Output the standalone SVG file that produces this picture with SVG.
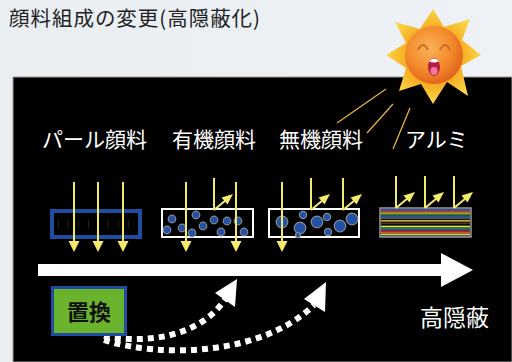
<svg xmlns="http://www.w3.org/2000/svg" width="512" height="362" viewBox="0 0 512 362">
  <defs>
    <style>
      .jp { font-family: "Noto Sans CJK JP", "Noto Sans", sans-serif; }
      .label { fill: #ffffff; font-size: 21px; }
      .ray { stroke: #f3ea6b; stroke-width: 2; fill: none; }
      .ray-head { fill: #f3ea6b; }
      .beam { stroke: #e8b040; stroke-width: 1.3; }
      .slab { fill: #000; stroke: #ffffff; stroke-width: 2; }
      .dot-s { fill: #2152a8; stroke: #8a8a8a; stroke-width: 1.2; }
      .dash-arrow { fill: none; stroke: #ffffff; stroke-width: 6; stroke-dasharray: 6 5; }
    </style>
    <radialGradient id="faceGrad" cx="0.42" cy="0.38" r="0.65">
      <stop offset="0" stop-color="#fbb25a"/>
      <stop offset="0.6" stop-color="#f28a2a"/>
      <stop offset="1" stop-color="#e0601a"/>
    </radialGradient>
    <radialGradient id="spikeGrad" cx="0.5" cy="0.5" r="0.5">
      <stop offset="0.5" stop-color="#f7a21a"/>
      <stop offset="1" stop-color="#f9d84a"/>
    </radialGradient>
    <linearGradient id="bgGrad" x1="0" y1="0" x2="1" y2="0">
      <stop offset="0" stop-color="#e9eef3"/>
      <stop offset="1" stop-color="#eef2f6"/>
    </linearGradient>
    <!-- downward arrowhead -->
    <path id="headDown" d="M-5.5,0 L5.5,0 L0,11 Z"/>
    <!-- reflected ray: vertical drop then diagonal bounce -->
    <g id="bounce">
      <line class="ray" x1="0" y1="0" x2="0" y2="32"/>
      <line class="ray" x1="0" y1="32" x2="12" y2="22"/>
      <path class="ray-head" d="M19,16 L7.5,19.5 L13.5,26.5 Z"/>
    </g>
  </defs>

  <!-- page background -->
  <rect x="0" y="0" width="512" height="362" fill="url(#bgGrad)"/>
  <text class="jp" x="9" y="26" font-size="20.5" fill="#222" textLength="251" lengthAdjust="spacing">顔料組成の変更(高隠蔽化)</text>

  <!-- black panel -->
  <rect x="13" y="77" width="499" height="285" fill="#000" stroke="#9a9a9a" stroke-width="1"/>

  <!-- sunlight beams -->
  <g id="beams">
    <line class="beam" x1="386" y1="89" x2="337" y2="123"/>
    <line class="beam" x1="393" y1="104" x2="367" y2="133"/>
    <line class="beam" x1="410" y1="108" x2="393" y2="149"/>
  </g>

  <!-- sun -->
  <g id="sun">
    <polygon fill="url(#spikeGrad)" points="433,9 444,27 470,19 462,40 481,55 461,66 468,96 447,82 433,104 421,84 399,91 406,68 386,55 406,43 395,22 420,29"/>
    <circle cx="434" cy="55" r="29" fill="url(#faceGrad)"/>
    <path d="M418,50 Q423,40 428,50" fill="none" stroke="#d06a28" stroke-width="2"/>
    <path d="M440,50 Q445,40 450,50" fill="none" stroke="#d06a28" stroke-width="2"/>
    <ellipse cx="434" cy="67" rx="6" ry="9" fill="#b81e4a"/>
    <ellipse cx="434" cy="71" rx="3.5" ry="4" fill="#f07a9a"/>
    <path d="M429,61 Q434,56 439,61 Q434,64 429,61 Z" fill="#ffffff"/>
  </g>

  <!-- column labels -->
  <text class="jp label" x="42" y="147">パール顔料</text>
  <text class="jp label" x="172" y="147">有機顔料</text>
  <text class="jp label" x="279" y="147">無機顔料</text>
  <text class="jp label" x="405" y="147">アルミ</text>

  <!-- pearl pigment: light passes through -->
  <g id="pearl">
    <rect x="52" y="211" width="88" height="26" fill="#000" stroke="#1f4ea0" stroke-width="4"/>
    <line x1="58" y1="224" x2="134" y2="224" stroke="#1c1c1c" stroke-width="8" stroke-dasharray="1 9"/>
    <line class="ray" x1="74" y1="182" x2="74" y2="242"/>
    <line class="ray" x1="98" y1="182" x2="98" y2="242"/>
    <line class="ray" x1="123" y1="182" x2="123" y2="242"/>
    <use href="#headDown" class="ray-head" x="74" y="241"/>
    <use href="#headDown" class="ray-head" x="98" y="241"/>
    <use href="#headDown" class="ray-head" x="123" y="241"/>
  </g>

  <!-- organic pigment -->
  <g id="organic">
    <rect class="slab" x="162" y="209" width="91" height="28"/>
    <circle class="dot-s" cx="172" cy="219" r="3.8"/>
    <circle class="dot-s" cx="196" cy="215" r="3.8"/>
    <circle class="dot-s" cx="167" cy="230" r="3.8"/>
    <circle class="dot-s" cx="182" cy="228" r="3.8"/>
    <circle class="dot-s" cx="192" cy="233" r="3.8"/>
    <circle class="dot-s" cx="203" cy="226" r="3.8"/>
    <circle class="dot-s" cx="214" cy="220" r="3.8"/>
    <circle class="dot-s" cx="227" cy="221" r="3.8"/>
    <circle class="dot-s" cx="238" cy="221" r="3.8"/>
    <circle class="dot-s" cx="221" cy="232" r="3.8"/>
    <circle class="dot-s" cx="244" cy="232" r="3.8"/>
    <line class="ray" x1="186" y1="182" x2="186" y2="242"/>
    <line class="ray" x1="236" y1="182" x2="236" y2="242"/>
    <use href="#headDown" class="ray-head" x="186" y="241"/>
    <use href="#headDown" class="ray-head" x="236" y="241"/>
    <use href="#bounce" x="214" y="178"/>
  </g>

  <!-- inorganic pigment -->
  <g id="inorganic">
    <rect class="slab" x="269" y="209" width="90" height="28"/>
    <circle class="dot-s" cx="282" cy="222" r="5.8"/>
    <circle class="dot-s" cx="303" cy="215" r="3.6"/>
    <circle class="dot-s" cx="300" cy="228" r="5.8"/>
    <circle class="dot-s" cx="298" cy="235" r="2.5"/>
    <circle class="dot-s" cx="317" cy="222" r="5.8"/>
    <circle class="dot-s" cx="327" cy="217" r="3.6"/>
    <circle class="dot-s" cx="328" cy="232" r="3.6"/>
    <circle class="dot-s" cx="340" cy="226" r="5.8"/>
    <circle class="dot-s" cx="352" cy="219" r="5.8"/>
    <line class="ray" x1="282" y1="182" x2="282" y2="242"/>
    <use href="#headDown" class="ray-head" x="282" y="241"/>
    <use href="#bounce" x="311" y="178"/>
    <use href="#bounce" x="343" y="178"/>
  </g>

  <!-- aluminium flakes -->
  <g id="aluminium">
    <rect x="380" y="208" width="91" height="29" fill="#151010"/>
    <g stroke-width="1.3">
      <line x1="381" y1="210" x2="470" y2="210" stroke="#3a6fd0"/>
      <line x1="381" y1="211.6" x2="470" y2="211.6" stroke="#e03030"/>
      <line x1="381" y1="213.2" x2="470" y2="213.2" stroke="#f0d020"/>
      <line x1="381" y1="214.8" x2="470" y2="214.8" stroke="#30a040"/>
      <line x1="381" y1="216.4" x2="470" y2="216.4" stroke="#2050c0"/>
      <line x1="381" y1="218" x2="470" y2="218" stroke="#666"/>
      <line x1="381" y1="220.8" x2="470" y2="220.8" stroke="#f0e040"/>
      <line x1="381" y1="223.4" x2="470" y2="223.4" stroke="#5a3010"/>
      <line x1="381" y1="226.4" x2="470" y2="226.4" stroke="#f0e040"/>
      <line x1="381" y1="228" x2="470" y2="228" stroke="#30a040"/>
      <line x1="381" y1="229.6" x2="470" y2="229.6" stroke="#2050c0"/>
      <line x1="381" y1="231.2" x2="470" y2="231.2" stroke="#e03030"/>
      <line x1="381" y1="232.8" x2="470" y2="232.8" stroke="#f08020"/>
      <line x1="381" y1="234.4" x2="470" y2="234.4" stroke="#f0d020"/>
      <line x1="381" y1="236" x2="470" y2="236" stroke="#3a6fd0"/>
    </g>
    <rect x="380" y="208" width="91" height="29" fill="none" stroke="#9a9a9a" stroke-width="1.5"/>
    <use href="#bounce" x="396" y="176"/>
    <use href="#bounce" x="425" y="176"/>
    <use href="#bounce" x="454" y="176"/>
  </g>

  <!-- direction arrow toward high hiding -->
  <g id="connectors">
    <polygon fill="#ffffff" points="38,264 441,264 441,253 473,270 441,287 441,276 38,276"/>
    <path class="dash-arrow" d="M104,336 C145,344 200,338 226,298"/>
    <polygon fill="#ffffff" points="237,279 215,293 235,307"/>
    <path class="dash-arrow" d="M104,340 C160,358 262,356 314,305"/>
    <polygon fill="#ffffff" points="326,282 304,299 325,312"/>
  </g>

  <!-- replacement box -->
  <g id="replace">
    <rect x="52.5" y="287.5" width="73" height="47" fill="#6ab42d" stroke="#1f4ea0" stroke-width="3"/>
    <text class="jp" x="67" y="320" font-size="22" font-weight="bold" fill="#111">置換</text>
  </g>

  <text class="jp" x="420" y="326" font-size="23" fill="#ffffff">高隠蔽</text>
</svg>
